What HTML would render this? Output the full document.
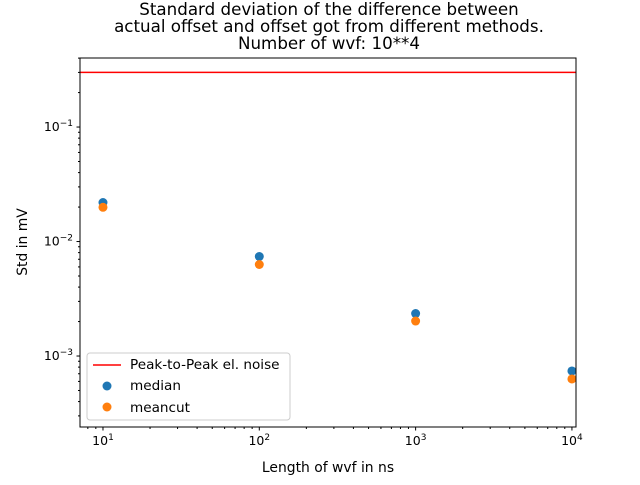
<!DOCTYPE html>
<html><head><meta charset="utf-8"><style>
body{margin:0;background:#fff}
svg{font-family:"DejaVu Sans","Liberation Sans",sans-serif}
</style></head><body>
<svg id="chart" width="640" height="480">
<text x="329" y="15" text-anchor="middle" font-size="16.7">Standard deviation of the difference between</text>
<text x="329" y="32" text-anchor="middle" font-size="16.7">actual offset and offset got from different methods.</text>
<text x="329" y="49" text-anchor="middle" font-size="16.7">Number of wvf: 10**4</text>
<text x="328" y="472" text-anchor="middle" font-size="13.9">Length of wvf in ns</text>
<text transform="translate(27,242) rotate(-90)" text-anchor="middle" font-size="13.9">Std in mV</text>
</svg>
<script>
const categories=[10,100,1000,10000];
const median=[0.0219,0.0074,0.00235,0.00074];
const meancut=[0.0199,0.0063,0.00202,0.00063];
const noiseLevel=[0.30];
const xTickExps=[1,2,3,4];
const yTickExps=[-3,-2,-1];
const L=80,R=576,T=58,B=427;
const xmin=0.853,xmax=4.026,ymin=-3.62,ymax=-0.397;
const sx=v=>L+(Math.log10(v)-xmin)/(xmax-xmin)*(R-L);
const sy=v=>B-(Math.log10(v)-ymin)/(ymax-ymin)*(B-T);
const svg=document.getElementById('chart');
const NS='http://www.w3.org/2000/svg';
function mk(t,a,p){const e=document.createElementNS(NS,t);for(const k in a)e.setAttribute(k,a[k]);(p||svg).appendChild(e);return e;}
const ln=mk('line',{x1:L,x2:R,y1:sy(noiseLevel[0]),y2:sy(noiseLevel[0]),stroke:'#ff0000','stroke-width':1.5});


categories.forEach((c,i)=>{
 const a=mk('circle',{cx:sx(c),cy:sy(median[i]),r:4.5,fill:'#1f77b4'});
 
 
 const b=mk('circle',{cx:sx(c),cy:sy(meancut[i]),r:4.5,fill:'#ff7f0e'});
 
 
});
xTickExps.forEach(e=>{
 const x=sx(Math.pow(10,e));
 mk('line',{x1:x,x2:x,y1:B,y2:B+3.5,stroke:'#000'});
 const t=mk('text',{x:x,y:B+18,'text-anchor':'middle','font-size':12.5});
 t.innerHTML='10<tspan dy="-5" font-size="9">'+e+'</tspan>';
 
 
});
for(let e=0;e<=4;e++)for(let m=2;m<10;m++){const v=m*Math.pow(10,e);const x=sx(v);if(x>L&&x<R)mk('line',{x1:x,x2:x,y1:B,y2:B+2,stroke:'#000'});}
yTickExps.forEach(e=>{
 const y=sy(Math.pow(10,e));
 mk('line',{x1:L-3.5,x2:L,y1:y,y2:y,stroke:'#000'});
 const t=mk('text',{x:L-7,y:y+4,'text-anchor':'end','font-size':12.5});
 t.innerHTML='10<tspan dy="-5" font-size="9">\u2212'+(-e)+'</tspan>';
 
 
});
for(let e=-4;e<=0;e++)for(let m=2;m<10;m++){const y=sy(m*Math.pow(10,e));if(y>T&&y<B)mk('line',{x1:L-2,x2:L,y1:y,y2:y,stroke:'#000'});}
const fr=mk('rect',{x:L,y:T,width:R-L,height:B-T,fill:'none',stroke:'#000','stroke-width':1});


const lg=mk('g',{});


mk('rect',{x:87,y:353,width:203,height:67,rx:3,fill:'#fff','fill-opacity':0.8,stroke:'#ccc'},lg);
mk('line',{x1:93,x2:121,y1:365,y2:365,stroke:'#ff0000','stroke-width':1.5},lg);
mk('circle',{cx:107,cy:386,r:4.5,fill:'#1f77b4'},lg);
mk('circle',{cx:107,cy:407,r:4.5,fill:'#ff7f0e'},lg);
[['Peak-to-Peak el. noise',369],['median',390],['meancut',412]].forEach(([s,y])=>{
 const t=mk('text',{x:130,y:y,'font-size':13.6},lg);t.textContent=s;
 
 
});
</script>
</body></html>
